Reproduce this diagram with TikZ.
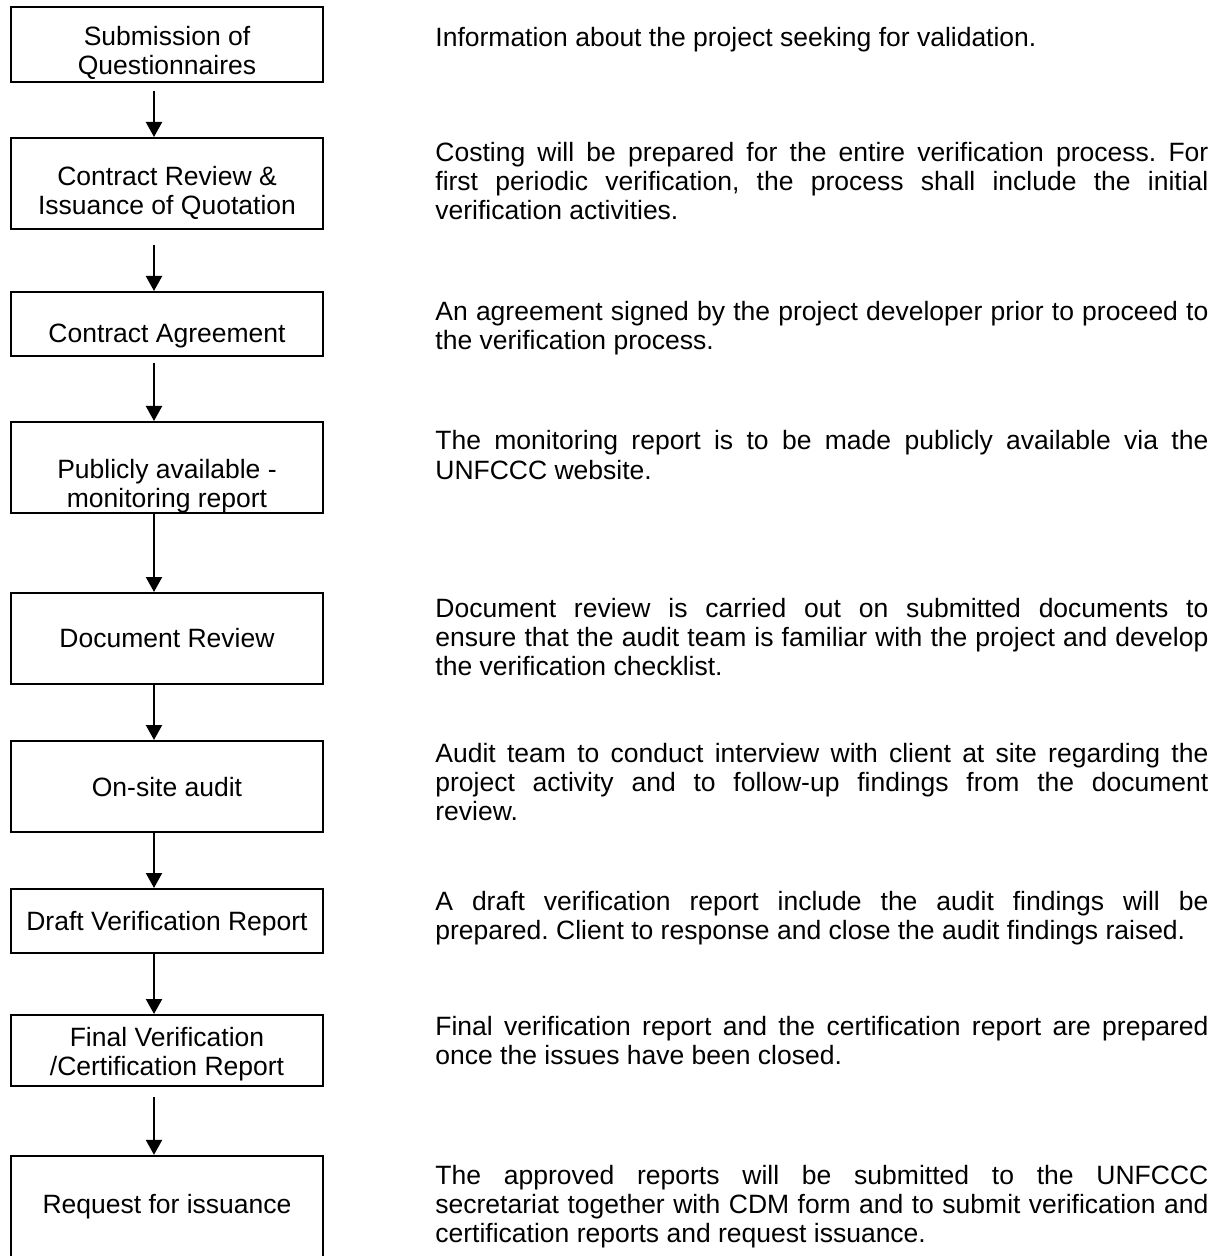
\documentclass[tikz,border=0pt]{standalone}
\usepackage{fontspec}
\setmainfont{Liberation Sans}
\usetikzlibrary{arrows.meta}

\newcommand{\descfont}{\fontsize{13.25pt}{14.5pt}\selectfont\frenchspacing\tolerance=10000\relax\hyphenpenalty=10000\relax}

\begin{document}
\begin{tikzpicture}[x=0.5pt, y=-0.5pt,
        stepbox/.style={draw=black, line width=1.15pt, minimum width=155.85pt, inner sep=0pt},
        steptext/.style={font=\fontsize{13.25pt}{14.5pt}\selectfont, align=center, anchor=base, inner sep=0pt},
        desc/.style={font=\descfont, text width=386.5pt, align=justify, anchor=base west, inner sep=0pt},
        flowarrow/.style={-{Triangle[width=8pt, length=7.5pt]}, line width=1.1pt}]
                \fill[white] (0,0) rectangle (1222,1256);
                \useasboundingbox (0,0) rectangle (1222,1256);
                \clip (0,0) rectangle (1222,1256);
                \coordinate (axis) at (154,0);
                \node[stepbox, minimum height=37.35pt] (sub) at (167,44.5) {};
                \node[stepbox, minimum height=45.35pt] (cost) at (167,183.5) {};
                \node[stepbox, minimum height=31.85pt] (agree) at (167,324) {};
                \node[stepbox, minimum height=45.35pt] (public) at (167,467.5) {};
                \node[stepbox, minimum height=45.35pt] (docrev) at (167,638.5) {};
                \node[stepbox, minimum height=45.35pt] (onsite) at (167,786.5) {};
                \node[stepbox, minimum height=31.85pt] (draft) at (167,921) {};
                \node[stepbox, minimum height=35.35pt] (final) at (167,1050.5) {};
                \node[stepbox, minimum height=70pt] (request) at (167,1226) {};
                \node[steptext] (subtxt) at (167,75) {Submission of\\Questionnaires};
                \node[steptext] (costtxt) at (167,215) {Contract Review \&\\Issuance of Quotation};
                \node[steptext] (agreetxt) at (167,343) {Contract Agreement};
                \node[steptext] (publictxt) at (167,507) {Publicly available -\\monitoring report};
                \node[steptext] (docrevtxt) at (167,647) {Document Review};
                \node[steptext] (onsitetxt) at (167,796) {On-site audit};
                \node[steptext] (drafttxt) at (167,930) {Draft Verification Report};
                \node[steptext] (finaltxt) at (167,1075) {Final Verification\\/Certification Report};
                \node[steptext] (requesttxt) at (167,1213) {Request for issuance};
                \draw[flowarrow, shorten <=4.2pt] (sub.south -| axis) -- (cost.north -| axis);
                \draw[flowarrow, shorten <=7.5pt] (cost.south -| axis) -- (agree.north -| axis);
                \draw[flowarrow, shorten <=3pt] (agree.south -| axis) -- (public.north -| axis);
                \draw[flowarrow] (public.south -| axis) -- (docrev.north -| axis);
                \draw[flowarrow] (docrev.south -| axis) -- (onsite.north -| axis);
                \draw[flowarrow] (onsite.south -| axis) -- (draft.north -| axis);
                \draw[flowarrow] (draft.south -| axis) -- (final.north -| axis);
                \draw[flowarrow, shorten <=5pt] (final.south -| axis) -- (request.north -| axis);
                \node[desc] (subinfo) at (435,47) {Information about the project seeking for validation.};
                \node[desc] (costinfo) at (435,162) {Costing will be prepared for the entire verification process. For\linebreak first periodic verification, the process shall include the initial\linebreak verification activities.};
                \node[desc] (agreeinfo) at (435,321) {An agreement signed by the project developer prior to proceed to\linebreak the verification process.};
                \node[desc] (publicinfo) at (435,450) {The monitoring report is to be made publicly available via the\linebreak UNFCCC website.};
                \node[desc] (docrevinfo) at (435,617) {Document review is carried out on submitted documents to\linebreak ensure that the audit team is familiar with the project and develop\linebreak the verification checklist.};
                \node[desc] (onsiteinfo) at (435,762) {Audit team to conduct interview with client at site regarding the\linebreak project activity and to follow-up findings from the document\linebreak review.};
                \node[desc] (draftinfo) at (435,910) {A draft verification report include the audit findings will be\linebreak prepared. Client to response and close the audit findings raised.};
                \node[desc] (finalinfo) at (435,1035) {Final verification report and the certification report are prepared\linebreak once the issues have been closed.};
                \node[desc] (requestinfo) at (435,1184) {The approved reports will be submitted to the UNFCCC\linebreak secretariat together with CDM form and to submit verification and\linebreak certification reports and request issuance.};
            \end{tikzpicture}
\end{document}
